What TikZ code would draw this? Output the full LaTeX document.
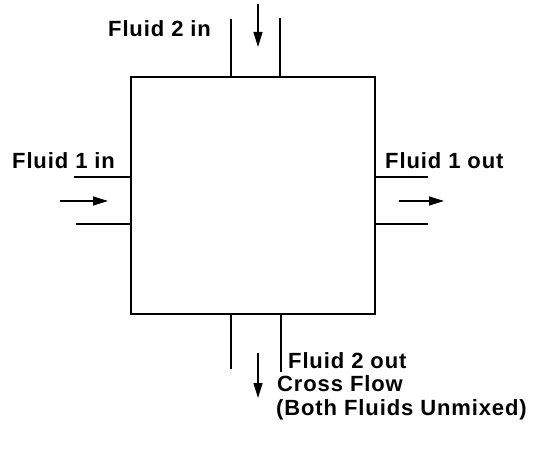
\documentclass[tikz,border=0pt]{standalone}
\usepackage{fontspec}
\setmainfont{Liberation Sans}
\usetikzlibrary{arrows.meta}
\begin{document}
\begin{tikzpicture}[x=1pt,y=-1pt,
  lbl/.style={font=\fontsize{22}{24}\selectfont\bfseries\addfontfeature{LetterSpace=4}, inner sep=0pt, anchor=base west},
  pipe/.style={line width=2.6pt},
  wall/.style={line width=1.6pt},
  flow/.style={line width=1.3pt, -{Triangle[length=15pt,width=9pt]}}]
\useasboundingbox (0,0) rectangle (533,452);
\node[draw, line width=1.8pt, minimum width=244pt, minimum height=237pt, inner sep=0pt] (hx) at (253,195.5) {};
% top inlet (fluid 2)
\coordinate (t1a) at (231,77); \coordinate (t1b) at (231,19);
\coordinate (t2a) at (280,77); \coordinate (t2b) at (280,18);
\draw[pipe] (t1a) -- (t1b);
\draw[pipe] (t2a) -- (t2b);
\coordinate (ta) at (258,4); \coordinate (tb) at (258,47);
\draw[flow] (ta) -- (tb);
% bottom outlet (fluid 2)
\coordinate (b1a) at (231,314); \coordinate (b1b) at (231,369);
\coordinate (b2a) at (281,314); \coordinate (b2b) at (281,372);
\draw[pipe] (b1a) -- (b1b);
\draw[pipe] (b2a) -- (b2b);
\coordinate (ba) at (258,353); \coordinate (bb) at (258,398);
\draw[flow] (ba) -- (bb);
% left inlet (fluid 1)
\coordinate (l1a) at (131,177); \coordinate (l1b) at (74,177);
\coordinate (l2a) at (131,224); \coordinate (l2b) at (76,224);
\draw[wall] (l1a) -- (l1b);
\draw[wall] (l2a) -- (l2b);
\coordinate (la) at (60,201); \coordinate (lb) at (108,201);
\draw[flow] (la) -- (lb);
% right outlet (fluid 1)
\coordinate (r1a) at (375,177); \coordinate (r1b) at (428,177);
\coordinate (r2a) at (375,224); \coordinate (r2b) at (428,224);
\draw[wall] (r1a) -- (r1b);
\draw[wall] (r2a) -- (r2b);
\coordinate (ra) at (399,201); \coordinate (rb) at (444,201);
\draw[flow] (ra) -- (rb);
% labels
\node[lbl] (f2in) at (108,37) {Fluid 2 in};
\node[lbl] (f1in) at (12,168) {Fluid 1 in};
\node[lbl] (f1out) at (385,168) {Fluid 1 out};
\node[lbl] (f2out) at (288,368) {Fluid 2 out};
\node[lbl] (cf) at (277,391) {Cross Flow};
\node[lbl] (both) at (276,415) {(Both Fluids Unmixed)};
\end{tikzpicture}
\end{document}
